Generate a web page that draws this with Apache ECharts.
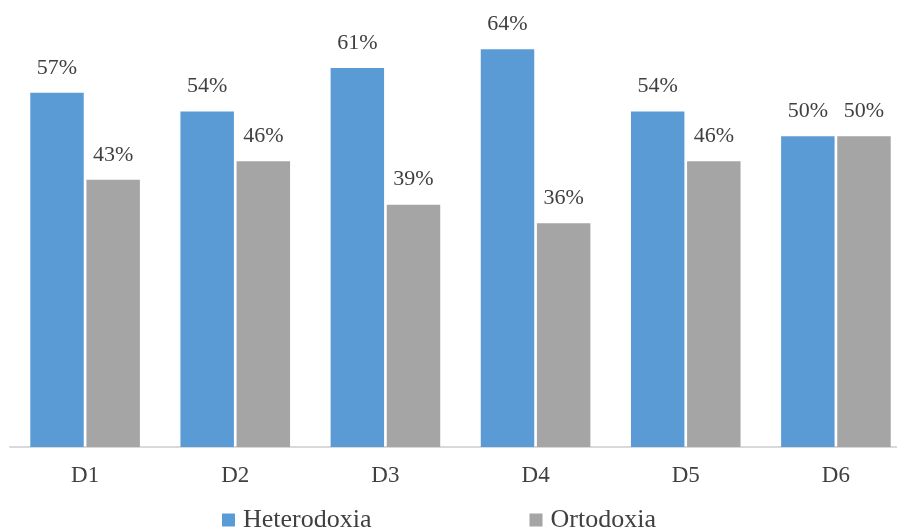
<!DOCTYPE html>
<html>
<head>
<meta charset="utf-8">
<script src="https://cdn.jsdelivr.net/npm/echarts@6/dist/echarts.min.js"></script>
<style>html,body{margin:0;padding:0;background:#fff}#c{width:897px;height:531px}</style>
</head>
<body>
<div id="c"></div>
<script>
var categories = ['D1','D2','D3','D4','D5','D6'];
var heterodoxia = [57,54,61,64,54,50];
var ortodoxia = [43,46,39,36,46,50];
var seriesNames = ['Heterodoxia','Ortodoxia'];

var font = 'Liberation Serif, Times New Roman, serif';
var chart = echarts.init(document.getElementById('c'));
var lbl = {show:true, position:'top', distance:14, formatter:'{c}%', color:'#404040', fontFamily:font, fontSize:22};
chart.setOption({
  animation:false,
  grid:{left:10, width:901, top:12, height:435, containLabel:false, outerBoundsMode:'none'},
  legend:{
    data:seriesNames, left:222, top:507, padding:0, itemWidth:13, itemHeight:13, itemGap:158,
    icon:'rect',
    textStyle:{color:'#404040', fontFamily:font, fontSize:26, padding:[0,0,0,3]}
  },
  xAxis:{
    type:'category', data:categories,
    axisLine:{lineStyle:{color:'#d9d9d9', width:2}},
    axisTick:{show:false},
    axisLabel:{color:'#404040', fontFamily:font, fontSize:23, margin:17}
  },
  yAxis:{type:'value', min:0, max:70, show:false, splitLine:{show:false}},
  series:[
    {name:seriesNames[0], type:'bar', data:heterodoxia, itemStyle:{color:'#5B9BD5'}, barGap:'5%', barCategoryGap:'27%', label:lbl},
    {name:seriesNames[1], type:'bar', data:ortodoxia, itemStyle:{color:'#A5A5A5'}, label:lbl}
  ]
});
</script>
</body>
</html>
